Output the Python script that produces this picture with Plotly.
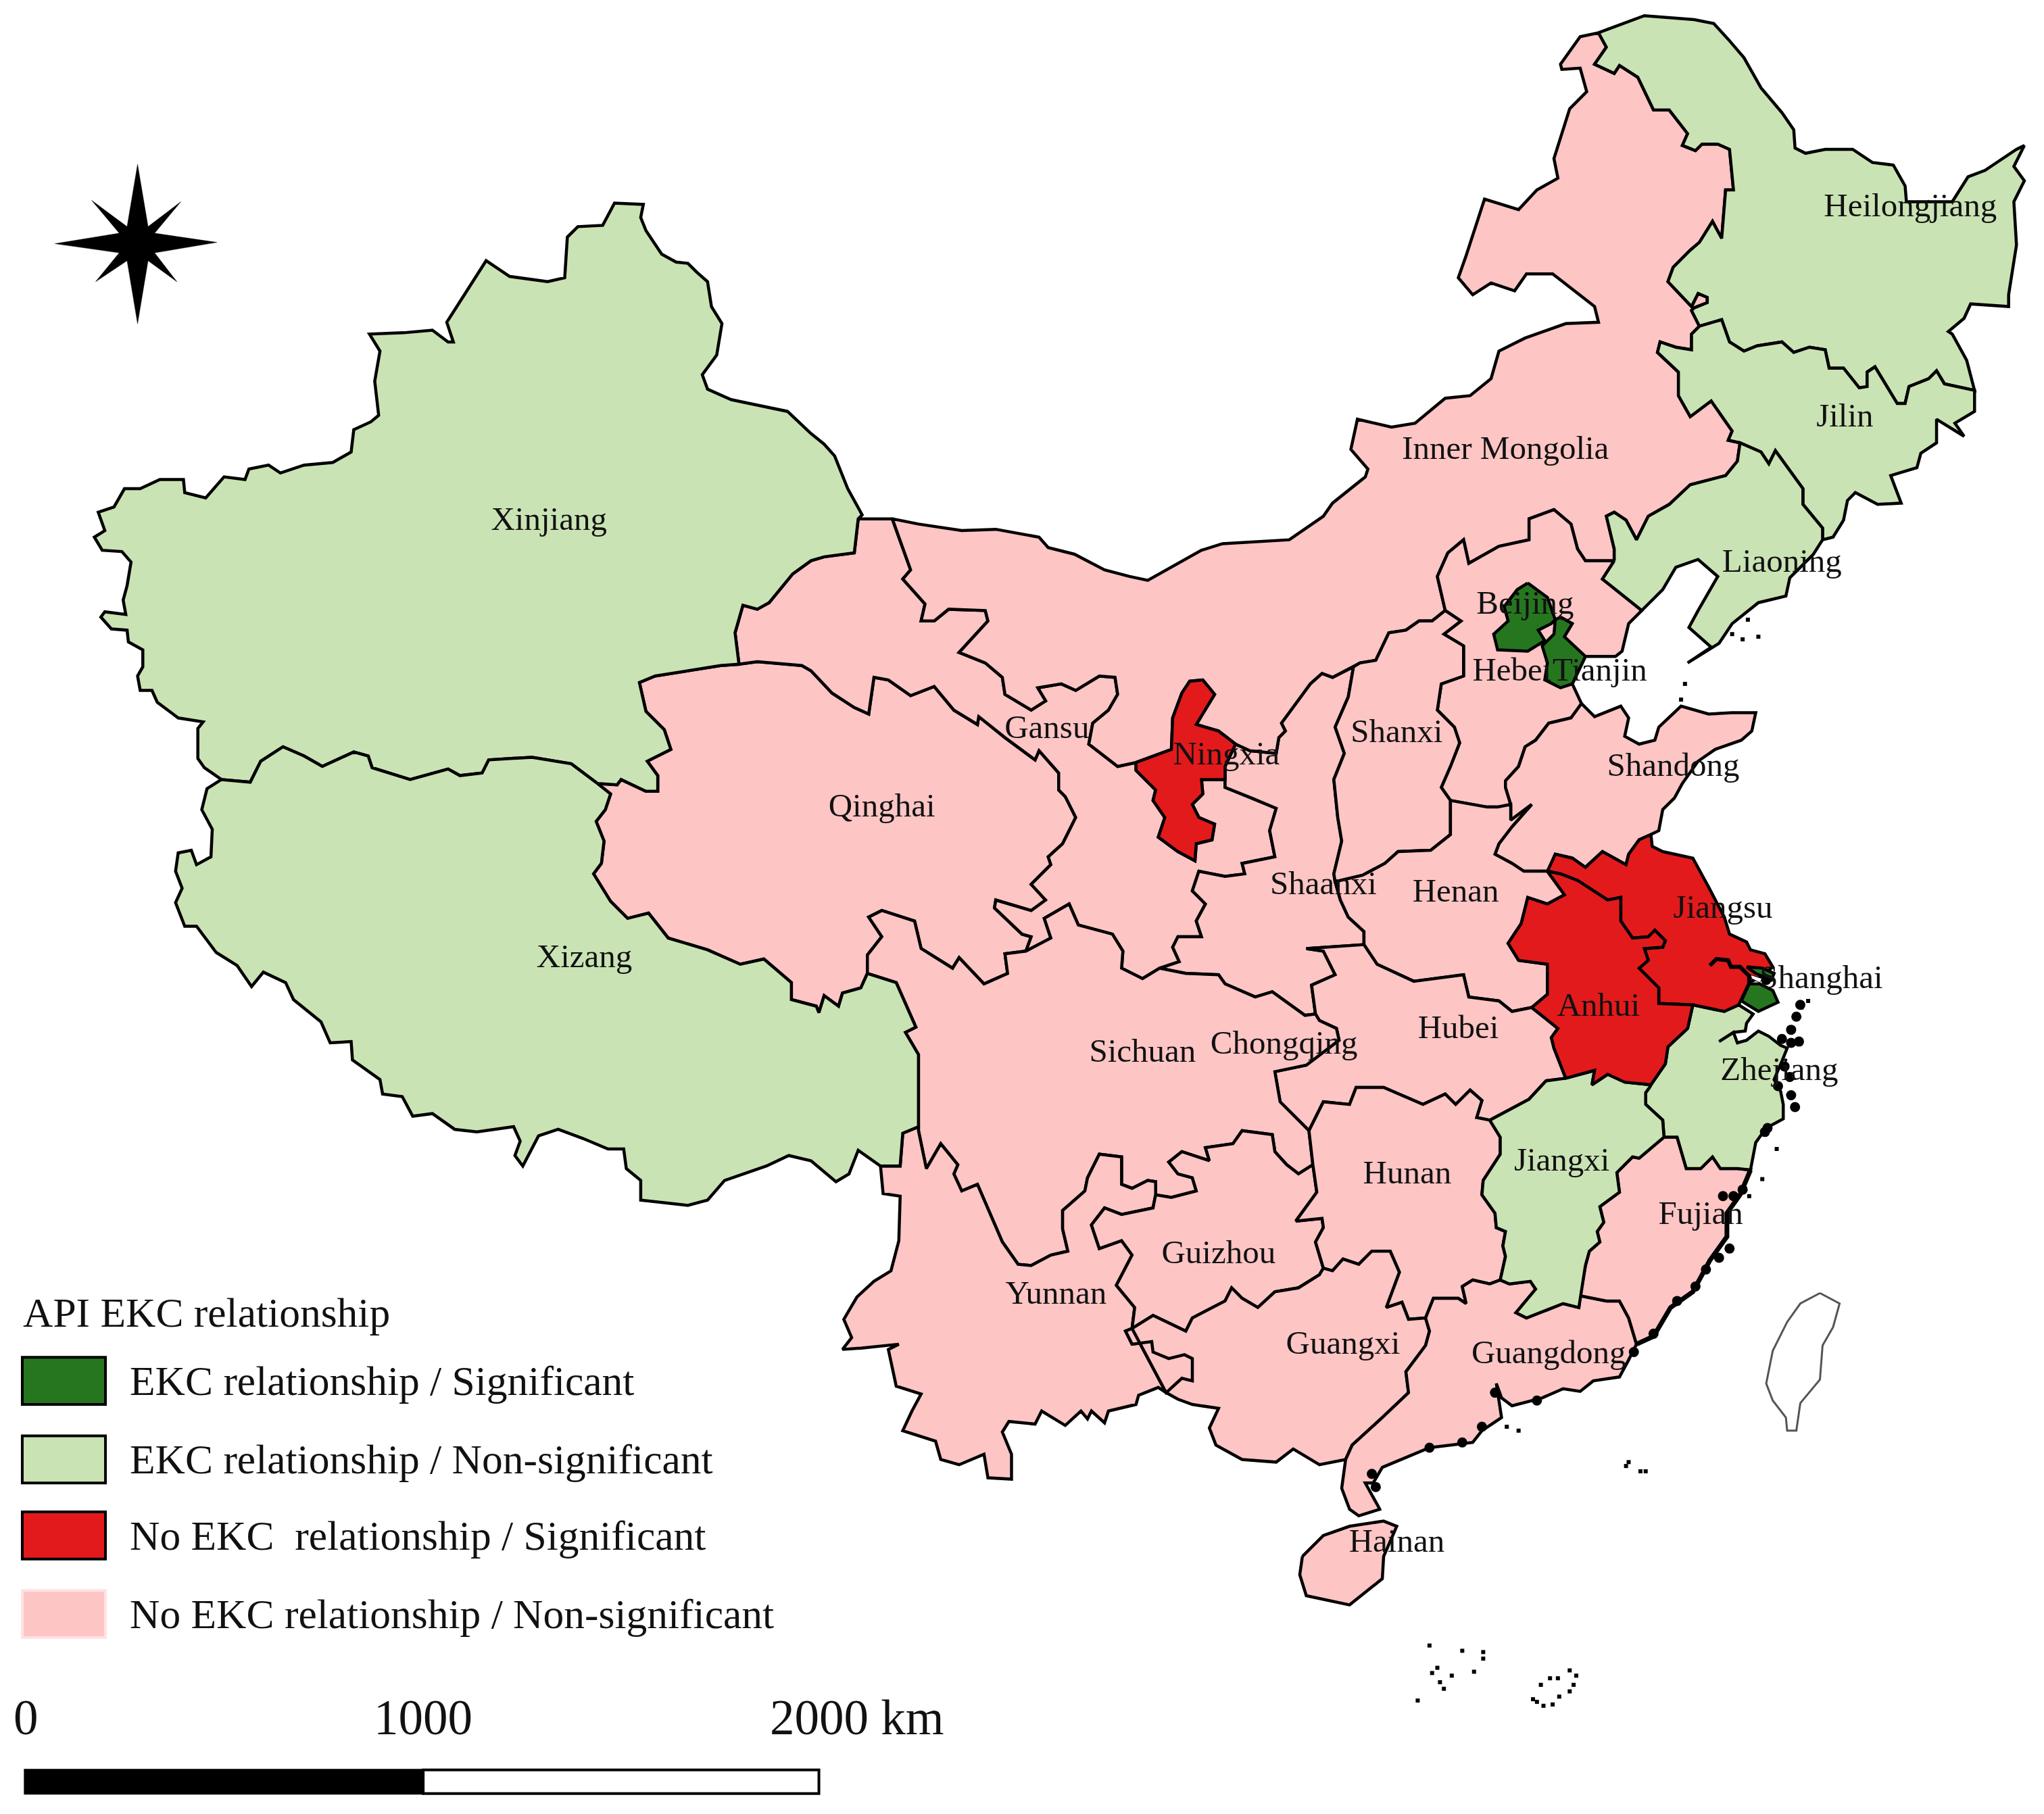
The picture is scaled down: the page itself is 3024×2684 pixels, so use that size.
import plotly.graph_objects as go

# border arcs, each runs from one junction to the next
xj_out = [(169,595),(156,586),(151,579),(151,556),(155,551),(136,548),(120,536),(116,527),(107,527),(105,516),(109,509),
          (109,496),(98,490),(97,481),(85,480),(77,471),(80,467),(96,469),(94,458),(97,447),(100,429),(93,421),(78,420),
          (72,410),(80,405),(75,391),(87,387),(95,373),(107,373),(122,366),(140,366),(141,376),(157,380),(171,364),(187,366),
          (190,358),(205,355),(214,361),(232,355),(254,353),(268,345),(270,328),(283,322),(289,317),(286,291),(290,268),
          (282,255),(308,254),(330,252),(342,261),(346,261),(341,246),(371,199),(389,211),(418,215),(431,212),(433,181),
          (441,173),(460,172),(469,155),(491,156),(489,166),(493,176),(505,194),(516,200),(525,201),(532,208),(540,215),
          (543,234),(551,247),(547,271),(536,286),(540,297),(558,305),(572,308),(601,314),(619,331),(629,339),(637,348),
          (647,373),(658,393),(655,396)]
xj_gs = [(655,396),(652,422),(629,425),(619,428),(605,438),(587,460),(578,465),(567,462),(561,483),(564,507)]
xj_qh = [(564,507),(550,508),(500,516),(488,521),(493,543),(507,557),(512,572),(494,581),(502,592),(502,604),(493,604),
         (474,595),(471,599),(456,598)]
xj_xz = [(456,598),(436,583),(406,578),(373,580),(368,590),(351,592),(342,587),(313,595),(284,586),(281,577),(270,574),
         (246,585),(232,577),(216,570),(199,581),(191,597),(169,595)]
xz_qh = [(456,598),(466,606),(462,618),(455,627),(461,642),(459,659),(453,667),(466,688),(479,701),(495,697),(510,716),
         (540,725),(565,736),(583,732),(604,750),(604,763),(623,768),(625,773),(629,760),(640,768),(643,758),(657,754),(662,743)]
xz_sc = [(662,743),(684,750),(699,784),(691,788),(701,805),(701,835),(701,860)]
xz_yn = [(701,860),(689,865),(687,890),(672,890)]
xz_out = [(672,890),(655,878),(648,896),(638,902),(619,886),(602,882),(585,890),(553,901),(540,916),(525,920),(489,916),
          (489,901),(478,892),(476,877),(464,877),(445,869),(426,862),(411,867),(399,890),(393,882),(397,871),(392,860),
          (364,864),(347,862),(330,850),(315,852),(307,837),(292,835),(290,824),(269,809),(268,795),(252,796),(245,780),
          (224,763),(218,750),(201,742),(192,753),(181,737),(165,727),(150,707),(141,707),(134,689),(139,678),(134,665),
          (136,651),(146,649),(150,660),(161,654),(162,633),(154,618),(158,602),(169,595)]
gs_qh = [(564,507),(578,505),(612,508),(619,512),(635,529),(652,540),(663,545),(667,517),(678,519),(695,531),(713,524),(728,542),
         (746,553),(747,547),(767,563),(790,580),(793,573),(808,590),(808,603),(813,608),(821,624),(811,644),(800,654),
         (802,660),(787,675),(798,687),(787,695),(760,687),(759,693),(780,713),(787,715),(783,726)]
qh_sc = [(783,726),(767,728),(769,743),(751,751),(732,731),(727,739),(703,724),(698,703),(673,695),(663,700),(673,715),
         (662,729),(662,743)]
gs_im = [(655,396),(681,396),(695,435),(689,442),(706,461),(703,474),(713,474),(724,465),(752,466),(754,474),(732,498),
         (752,506),(765,517),(767,530),(787,542),(798,535),(792,525),(810,522),(821,527),(839,516),(851,517),(853,530),
         (846,542),(834,552),(831,568),(853,585),(867,582)]
nx_gs = [(867,582),(867,588),(882,603),(880,611),(889,624),(884,639),(899,650),(912,657),(913,644),(925,641),(927,629),
         (915,624),(910,614),(918,606),(917,595),(935,595)]
gs_sx = [(935,595),(935,601),(955,609),(974,617),(969,634),(973,654),(948,659),(950,667),(935,669),(915,665),(910,680),
         (920,690),(913,703),(917,715),(899,715),(895,723),(900,734),(885,739)]
gs_sc = [(885,739),(872,747),(856,739),(857,726),(849,713),(823,706),(816,690),(797,701),(802,716),(783,726)]
nx_im = [(867,582),(894,572),(895,548),(902,529),(908,520),(918,519),(927,530),(913,553),(930,558),(943,568)]
nx_sx = [(943,568),(935,585),(935,595)]
sx_im = [(943,568),(954,573),(974,575),(976,563),(981,558),(978,552),(1000,522),(1009,514),(1017,517),(1033,509)]
im_sh = [(1033,509),(1038,506),(1050,504),(1060,483),(1073,481),(1083,474),(1093,474),(1103,466)]
im_hb = [(1103,466),(1097,440),(1105,422),(1117,412),(1121,430),(1144,417),(1167,412),(1167,396),(1186,389),(1199,400),
         (1204,419),(1210,428),(1232,428)]
im_ln = [(1232,428),(1232,419),(1226,394),(1232,391),(1241,397),(1249,412),(1258,394),(1274,385),(1290,370),(1317,363),
         (1326,352),(1328,338)]
im_jl = [(1328,338),(1319,336),(1322,329),(1306,306),(1290,318),(1281,302),(1281,284),(1265,269),(1267,261),(1279,265),
         (1291,267),(1291,255),(1297,249)]
im_hl = [(1297,249),(1291,237),(1293,235),(1303,231),(1303,227),(1296,224),(1291,234),(1273,215),(1277,204),(1290,191),
         (1297,185),(1307,169),(1314,182),(1317,145),(1323,145),(1320,114),(1311,110),(1299,110),(1294,115),(1284,111),
         (1288,102),(1274,84),(1262,84),(1250,59),(1236,50),(1232,56),(1217,49),(1226,36),(1220,25)]
im_out = [(1220,25),(1206,28),(1191,49),(1192,53),(1206,52),(1211,70),(1198,83),(1186,121),(1189,136),(1173,145),(1159,160),
          (1133,152),(1119,195),(1113,212),(1124,225),(1138,216),(1156,222),(1165,209),(1185,209),(1217,234),(1220,246),
          (1195,247),(1164,258),(1144,268),(1138,289),(1122,302),(1103,304),(1080,323),(1062,326),(1036,320),(1031,343),
          (1044,358),(1042,364),(1017,384),(1010,394),(984,412),(933,415),(917,420),(876,443),(862,440),(843,435),(820,423),
          (800,418),(793,410),(760,404),(734,405),(701,400),(681,396)]
hl_out = [(1220,25),(1255,12),(1293,15),(1308,18),(1319,30),(1331,44),(1344,67),(1360,86),(1369,99),(1370,113),(1378,117),
          (1393,114),(1414,114),(1429,124),(1445,126),(1454,142),(1455,154),(1490,154),(1502,135),(1515,130),(1539,114),
          (1545,111),(1537,127),(1545,138),(1537,154),(1539,187),(1533,225),(1533,234),(1504,232),(1499,243),(1487,253),
          (1490,255),(1501,275),(1507,298)]
hl_jl = [(1507,298),(1484,293),(1478,283),(1472,289),(1457,295),(1454,308),(1448,308),(1431,280),(1425,284),(1425,295),
         (1419,296),(1407,281),(1396,281),(1393,267),(1381,265),(1369,269),(1360,261),(1341,264),(1331,268),(1320,261),
         (1314,244),(1297,249)]
jl_out = [(1507,298),(1507,314),(1492,323),(1499,333),(1478,320),(1478,338),(1466,346),(1463,357),(1443,363),(1451,384),
          (1433,385),(1416,376),(1410,382),(1407,397),(1399,410),(1391,412)]
jl_ln = [(1328,338),(1344,345),(1350,354),(1355,344),(1376,373),(1376,385),(1391,403),(1391,412)]
ln_coast = [(1391,412),(1384,423),(1366,441),(1363,455),(1342,460),(1322,476),(1312,491),(1288,506),(1306,494),(1289,479),
            (1296,466),(1311,440),(1296,427),(1279,433),(1269,450),(1253,466)]
ln_hb = [(1253,466),(1233,450),(1223,442),(1232,428)]
hb_coast = [(1253,466),(1243,476),(1238,497),(1233,501),(1210,501),(1200,522),(1207,537)]
hb_sd = [(1207,537),(1199,548),(1182,552),(1172,565),(1164,570),(1159,585),(1149,596),(1149,601),(1153,614)]
hb_hn = [(1153,614),(1143,616),(1135,616),(1107,611)]
sh_hb = [(1103,466),(1115,474),(1102,484),(1117,493),(1117,516),(1100,522),(1097,542),(1110,555),(1114,567),(1107,585),
         (1100,601),(1107,611)]
sh_hn = [(1107,611),(1107,637),(1092,649),(1067,650),(1057,659),(1040,668),(1019,673)]
sx_sh = [(1033,509),(1029,532),(1019,555),(1026,575),(1018,595),(1021,624),(1024,642),(1018,667),(1019,673)]
sx_hn = [(1019,673),(1023,687),(1029,700),(1041,711),(1041,721)]
sx_hb = [(1041,721),(997,724),(1010,726),(1019,744),(1001,752),(1004,774)]
sx_sc = [(1004,774),(996,775),(971,757),(958,761),(935,751),(930,744),(905,743),(885,739)]
sd_coast = [(1207,537),(1217,547),(1237,539),(1243,548),(1240,562),(1251,568),(1263,565),(1266,555),(1283,539),(1304,545),
            (1322,544),(1340,544),(1337,558),(1329,565),(1309,572),(1296,581),(1284,598),(1278,609),(1269,618),(1266,634),
            (1260,637)]
sd_js = [(1260,637),(1251,641),(1243,652),(1241,660),(1223,650),(1210,662),(1200,655),(1187,652),(1184,659),(1181,665)]
sd_hn = [(1181,665),(1163,665),(1154,659),(1141,652),(1144,644),(1154,631),(1169,614),(1153,626),(1153,614)]
hn_ah = [(1181,665),(1194,683),(1181,690),(1166,685),(1161,705),(1151,720),(1159,733),(1181,736),(1181,759),(1169,769)]
hn_hb = [(1041,721),(1051,736),(1079,749),(1117,744),(1121,761),(1144,764),(1154,772),(1169,769)]
ah_hb = [(1169,769),(1189,785),(1184,792),(1186,800),(1195,823)]
ah_js = [(1181,665),(1191,667),(1204,672),(1227,687),(1237,685),(1237,703),(1246,716),(1258,715),(1263,710),(1271,718),
         (1269,723),(1255,724),(1258,733),(1251,739),(1266,754),(1266,766),(1292,767)]
ah_zj = [(1292,767),(1288,785),(1273,799),(1271,812),(1260,828)]
ah_jx = [(1260,828),(1240,826),(1227,820),(1215,828),(1217,817),(1195,823)]
js_coast = [(1260,637),(1261,646),(1269,650),(1292,655),(1304,677),(1316,700),(1320,713),(1333,719),(1336,725),(1347,728),
            (1353,738)]
js_south = [(1353,738),(1345,745),(1335,750),(1329,762),(1327,767),(1316,772),(1292,767)]
js_zj = [(1292,767),(1316,772),(1327,767),(1338,774)]
zj_coast = [(1338,774),(1333,781),(1332,787),(1323,788),(1312,795),(1323,788),(1326,796),(1333,794),(1342,787),(1350,791),
            (1359,798),(1364,800),(1360,810),(1354,824),(1359,833),(1361,843),(1361,854),(1348,861),(1340,872),(1336,893)]
zj_fj = [(1336,893),(1326,892),(1313,892),(1307,883),(1298,892),(1287,892),(1280,868),(1270,868)]
zj_jx = [(1260,828),(1259,830),(1256,834),(1256,843),(1269,855),(1270,868)]
jx_fj = [(1270,868),(1251,884),(1246,883),(1234,895),(1236,910),(1221,921),(1224,933),(1219,940),(1221,948),(1213,955),
         (1210,966),(1206,989)]
jx_gd = [(1145,977),(1152,980),(1168,978),(1172,984),(1157,1002),(1165,1006),(1193,995),(1205,998),(1206,989)]
hu_jx = [(1137,855),(1145,868),(1145,881),(1132,901),(1131,912),(1141,926),(1142,937),(1149,940),(1147,951),(1149,959),
         (1145,977)]
hb_jx = [(1195,823),(1180,825),(1167,839),(1137,855)]
hb_hu = [(999,863),(1010,841),(1030,843),(1035,830),(1056,830),(1086,843),(1103,835),(1111,843),(1122,832),(1131,840),
         (1127,853),(1137,855)]
hb_cq = [(1004,774),(1007,779),(1020,785),(1022,794),(997,813),(973,818),(977,841),(999,863)]
hu_cq = [(999,863),(1002,889)]
gz_sc = [(882,912),(894,914),(913,909),(910,899),(899,896),(892,887),(902,879),(923,886),(920,876),(941,873),(948,863),
         (971,866),(973,879),(982,889),(991,896),(1002,889)]
gz_hu = [(1002,889),(1005,910),(989,932),(1009,930),(1010,937),(1004,948),(1010,968)]
gz_gx = [(1010,968),(1007,973),(991,983),(973,986),(960,998),(948,991),(940,983),(935,993),(910,1006),(905,1016),(880,1004),
         (864,1014)]
gz_yn = [(864,1014),(866,998),(852,981),(864,958),(856,947),(839,953),(833,935),(843,922),(856,927),(880,922),(882,912)]
sc_yn = [(882,912),(882,902),(876,901),(864,907),(856,904),(856,883),(839,881),(830,899),(828,909),(811,924),(811,938),
         (815,955),(802,958),(787,966),(777,965),(765,948),(746,904),(734,909),(728,896),(731,889),(718,873),(707,892),
         (701,863),(701,860)]
yn_coast = [(672,890),(674,911),(687,913),(686,947),(680,970),(667,978),(654,990),(644,1007),(650,1021),(643,1030),(657,1029),
            (686,1026),(678,1030),(684,1058),(703,1064),(696,1077),(689,1092),(714,1100),(718,1114),(732,1118),(751,1110),
            (754,1128),(772,1129),(772,1110),(765,1093),(770,1085),(790,1087),(795,1077),(813,1088),(825,1077),(830,1083),
            (833,1077),(843,1086),(846,1077),(867,1072),(869,1065),(884,1059),(890,1063)]
yn_gx = [(890,1063),(902,1052),(910,1054),(910,1037),(904,1034),(892,1037),(880,1032),(879,1024),(864,1026),(859,1016),(864,1014)]
gx_coast = [(890,1063),(899,1068),(910,1072),(930,1075),(923,1090),(928,1103),(948,1114),(974,1116),(987,1106),(1007,1118),
            (1027,1114)]
gd_gx = [(1088,1006),(1091,1016),(1088,1027),(1073,1047),(1075,1063),(1055,1082),(1043,1093),(1032,1103),(1027,1114)]
hu_gx = [(1088,1006),(1075,1007),(1070,994),(1058,998),(1068,971),(1061,955),(1047,955),(1037,965),(1025,961),(1017,970),(1010,968)]
hu_gd = [(1088,1006),(1094,991),(1113,991),(1119,995),(1116,982),(1124,977),(1137,980),(1145,977)]
fj_coast = [(1336,893),(1328,912),(1318,926),(1318,944),(1305,962),(1292,986),(1275,998),(1262,1020),(1249,1026)]
fj_gd = [(1249,1026),(1243,1006),(1236,993),(1226,993),(1206,989)]
gd_coast = [(1249,1026),(1243,1038),(1236,1051),(1216,1054),(1206,1062),(1193,1060),(1177,1067),(1154,1073),(1146,1067),
            (1142,1056),(1146,1082),(1131,1092),(1124,1101),(1091,1105),(1055,1120),(1048,1132),(1042,1132),(1052,1150),
            (1053,1152),(1037,1157),(1030,1152),(1024,1136),(1027,1114)]


def rev(arc):
    return arc[::-1]


provinces = {
    "Xinjiang": xj_out + xj_gs + xj_qh + xj_xz,
    "Xizang": rev(xj_xz) + xz_qh + xz_sc + xz_yn + xz_out,
    "Qinghai": rev(xj_qh) + gs_qh + qh_sc + rev(xz_qh),
    "Gansu": gs_im + nx_gs + gs_sx + gs_sc + rev(gs_qh) + rev(xj_gs),
    "Ningxia": nx_im + nx_sx + rev(nx_gs),
    "Shaanxi": sx_im + sx_sh + sx_hn + sx_hb + sx_sc + rev(gs_sx) + rev(nx_sx),
    "Inner Mongolia": gs_im[1:] + nx_im + sx_im + im_sh + im_hb + im_ln + im_jl + im_hl + im_out,
    "Heilongjiang": hl_out + hl_jl + im_hl,
    "Jilin": rev(hl_jl) + jl_out + rev(jl_ln) + im_jl,
    "Liaoning": im_ln + jl_ln + ln_coast + ln_hb,
    "Hebei": im_hb + rev(ln_hb) + hb_coast + hb_sd + hb_hn + rev(sh_hb),
    "Shanxi": im_sh + sh_hb + sh_hn + rev(sx_sh),
    "Shandong": rev(hb_sd) + sd_coast + sd_js + sd_hn,
    "Henan": rev(hb_hn) + rev(sd_hn) + hn_ah + rev(hn_hb) + rev(sx_hn) + rev(sh_hn),
    "Hubei": hn_hb + ah_hb + hb_jx + rev(hb_hu) + rev(hb_cq) + rev(sx_hb),
    "Sichuan": rev(qh_sc) + rev(gs_sc) + rev(sx_sc) + hb_cq + hu_cq + rev(gz_sc) + sc_yn + rev(xz_sc),
    "Yunnan": rev(sc_yn) + rev(gz_yn) + yn_gx + rev(yn_coast) + rev(xz_yn),
    "Guizhou": gz_sc + gz_hu + gz_gx + gz_yn,
    "Hunan": hb_hu + hu_jx + rev(hu_gd) + hu_gx + rev(gz_hu) + rev(hu_cq),
    "Guangxi": rev(gz_gx) + rev(hu_gx) + gd_gx + rev(gx_coast) + rev(yn_gx),
    "Guangdong": hu_gd + jx_gd + rev(fj_gd) + gd_coast + rev(gd_gx),
    "Jiangxi": rev(ah_jx) + zj_jx + jx_fj + rev(jx_gd) + rev(hu_jx) + rev(hb_jx),
    "Fujian": rev(zj_fj) + fj_coast + fj_gd + rev(jx_fj),
    "Zhejiang": js_zj + zj_coast + zj_fj + rev(zj_jx) + rev(ah_zj),
    "Anhui": rev(hn_ah) + ah_js + ah_zj + ah_jx + rev(ah_hb),
    "Jiangsu": rev(sd_js) + js_coast + js_south + rev(ah_js),
    "Hainan": [(994,1188),(1010,1172),(1030,1165),(1056,1161),(1066,1165),(1056,1188),(1055,1205),(1030,1225),(997,1218),
               (992,1202),(994,1188)],
    "Beijing": [(1166,445),(1181,456),(1187,473),(1184,476),(1174,481),(1179,489),(1166,497),(1143,496),(1140,484),(1151,474),
                (1148,463),(1158,450),(1166,445)],
    "Tianjin": [(1191,471),(1200,476),(1194,486),(1210,501),(1200,522),(1191,525),(1179,519),(1181,506),(1177,493),(1186,484),
                (1187,473),(1191,471)],
    "Shanghai": [(1335,751),(1343,751),(1353,756),(1357,765),(1342,772),(1329,764),(1335,751)],
    "Chongming": [(1333,738),(1345,739),(1354,743),(1352,748),(1340,743),(1333,738)],
}

# significance groups
dark_green = ["Beijing", "Tianjin", "Shanghai", "Chongming"]
light_green = ["Xinjiang", "Xizang", "Heilongjiang", "Jilin", "Liaoning", "Zhejiang", "Jiangxi"]
red = ["Ningxia", "Jiangsu", "Anhui"]
pink = [p for p in provinces if p not in dark_green + light_green + red]

legend_labels = ["EKC relationship / Significant", "EKC relationship / Non-significant",
                 "No EKC  relationship / Significant", "No EKC relationship / Non-significant"]
legend_colors = ["#26761F", "#CAE3B4", "#E31A1C", "#FEC5C5"]

label_names = ["Heilongjiang", "Jilin", "Liaoning", "Inner Mongolia", "Xinjiang", "Beijing", "Hebei", "Tianjin", "Shanxi",
               "Gansu", "Ningxia", "Qinghai", "Shandong", "Shaanxi", "Henan", "Jiangsu", "Xizang", "Shanghai", "Anhui",
               "Hubei", "Chongqing", "Sichuan", "Zhejiang", "Jiangxi", "Hunan", "Fujian", "Guizhou", "Yunnan", "Guangxi",
               "Guangdong", "Hainan"]
label_x = [1458, 1408, 1360, 1149, 419, 1164, 1154, 1221, 1066, 799, 936, 673, 1277, 1010, 1111, 1315, 446, 1390, 1220, 1113,
           980, 872, 1358, 1192, 1074, 1298, 930, 806, 1025, 1182, 1066]
label_y = [159, 319, 430, 344, 398, 462, 513, 513, 560, 557, 577, 617, 586, 676, 682, 694, 732, 748, 769, 786, 798, 804, 818,
           887, 897, 928, 958, 989, 1027, 1034, 1178]

taiwan = [(1389,987),(1404,995),(1399,1013),(1391,1027),(1389,1053),(1374,1071),(1371,1092),(1364,1092),(1363,1082),(1353,1069),
          (1348,1056),(1353,1031),(1364,1009),(1374,995),(1389,987)]
compass = [(105,125.5),(113,173),(138,154),(118,178),(165.5,185),(118,193),(135,215),(113,199),(105,247),(97,199),(73,215),
           (91,193),(42,186),(91,178),(70,153),(97,173),(105,125.5)]
river = [(1305,737),(1310,732),(1319,733),(1321,738),(1328,738),(1335,745),(1335,750)]
river_mouth = [(1336,744),(1345,747),(1343,750),(1337,747),(1336,744)]

island_blobs = [(1371,776),(1374,767),(1367,786),(1367,796),(1373,795),(1360,793),(1362,814),(1366,822),(1357,829),(1367,836),
                (1370,845),(1349,861),(1347,864),(1315,913),(1323,913),(1330,908),(1320,953),(1312,960),(1302,969),(1294,982),
                (1280,993),(1262,1018),(1247,1032),(1173,1069),(1141,1063),(1131,1089),(1116,1101),(1091,1105),(1047,1125),
                (1050,1135),(1348,748)]
island_dots = [(1380,764),(1375,769),(1368,835),(1371,846),(1366,836),(1356,877),(1335,913),(1345,900),
               (1159,1092),(1150,1089),(1322,484),(1330,488),(1342,486),(1334,473),(1286,522),(1283,534),(1243,1116),(1241,1119),
               (1252,1123),(1256,1123),(1091,1256),(1116,1260),(1132,1261),(1132,1266),(1097,1273),(1093,1277),(1108,1279),
               (1125,1276),(1099,1284),(1102,1289),(1082,1298),(1198,1275),(1203,1279),(1189,1281),(1183,1281),(1176,1286),
               (1201,1286),(1198,1291),(1190,1295),(1185,1301),(1178,1302),(1173,1299),(1170,1297)]

serif = "Liberation Serif"
fig = go.Figure()


def add_poly(pts, fill, line="black", width=4.5):
    fig.add_trace(go.Scatter(x=[p[0] for p in pts], y=[p[1] for p in pts], mode="lines", fill="toself",
                             fillcolor=fill, line=dict(color=line, width=width), hoverinfo="skip"))


def add_line(pts, width):
    fig.add_trace(go.Scatter(x=[p[0] for p in pts], y=[p[1] for p in pts], mode="lines",
                             line=dict(color="black", width=width), hoverinfo="skip"))


for group, col in zip([pink, light_green, red, dark_green], ["#FEC5C5", "#CAE3B4", "#E31A1C", "#26761F"]):
    for name in group:
        add_poly(provinces[name], col)
add_poly(taiwan, "white", line="#555555", width=3)
add_poly(compass, "black", width=0.5)
add_poly(river_mouth, "white", width=1)
add_line(river, 6)
add_line(fj_coast, 7)
fig.add_trace(go.Scatter(x=[p[0] for p in island_blobs], y=[p[1] for p in island_blobs], mode="markers",
                         marker=dict(color="black", size=15, symbol="circle"), hoverinfo="skip"))
fig.add_trace(go.Scatter(x=[p[0] for p in island_dots], y=[p[1] for p in island_dots], mode="markers",
                         marker=dict(color="black", size=6, symbol="square"), hoverinfo="skip"))
fig.add_trace(go.Scatter(x=label_x, y=label_y, text=label_names, mode="text", textposition="middle center",
                         textfont=dict(family=serif, size=49, color="#111111"), hoverinfo="skip"))

# legend block
legend_y = [1054, 1114, 1172, 1232]
shapes = []
for y, col, lab in zip(legend_y, legend_colors, legend_labels):
    edge = "#FFE3E3" if col == "#FEC5C5" else "black"
    shapes.append(dict(type="rect", xref="x", yref="y", x0=17, x1=80.5, y0=y - 18, y1=y + 18, fillcolor=col,
                       line=dict(color=edge, width=4)))
    fig.add_annotation(x=98, y=y, xref="x", yref="y", text=lab, showarrow=False, xanchor="left", yanchor="middle",
                       font=dict(family=serif, size=61.5, color="#111111"))
fig.add_annotation(x=16.5, y=1002, xref="x", yref="y", text="API EKC relationship", showarrow=False, xanchor="left",
                   yanchor="middle", font=dict(family=serif, size=61.5, color="#111111"))

# scale bar
shapes.append(dict(type="rect", xref="x", yref="y", x0=19, x1=323, y0=1351, y1=1369, fillcolor="black",
                   line=dict(color="black", width=3)))
shapes.append(dict(type="rect", xref="x", yref="y", x0=323, x1=625, y0=1351, y1=1369, fillcolor="white",
                   line=dict(color="black", width=4)))
for x, txt in zip([20, 323, 654], ["0", "1000", "2000 km"]):
    fig.add_annotation(x=x, y=1311, xref="x", yref="y", text=txt, showarrow=False, xanchor="center", yanchor="middle",
                       font=dict(family=serif, size=73, color="#111111"))

fig.update_layout(width=3024, height=2684, margin=dict(l=0, r=0, t=0, b=0), showlegend=False, shapes=shapes,
                  plot_bgcolor="white", paper_bgcolor="white",
                  xaxis=dict(range=[0, 1560], visible=False, fixedrange=True),
                  yaxis=dict(range=[1384.6, 0], visible=False, fixedrange=True))
fig.write_html("out.html", post_script="document.body.style.margin='0';", config=dict(displayModeBar=False))
